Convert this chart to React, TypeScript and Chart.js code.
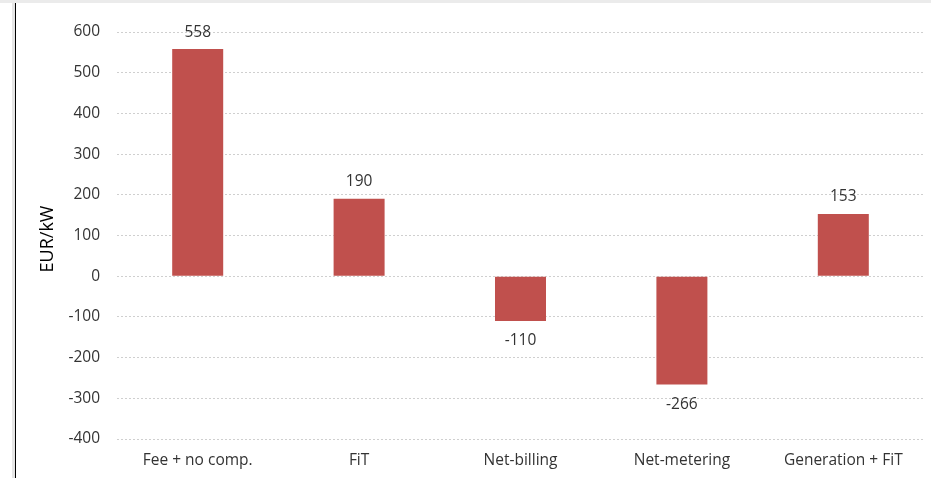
import React, { useEffect, useRef } from "react";
import { Chart, registerables } from "chart.js";

Chart.register(...registerables);

const categories: string[] = ["Fee + no comp.", "FiT", "Net-billing", "Net-metering", "Generation + FiT"];
const values: number[] = [558, 190, -110, -266, 153];
const yTicks: number[] = [-400, -300, -200, -100, 0, 100, 200, 300, 400, 500, 600];
const yTitle = "EUR/kW";

const FONT = "'Open Sans', 'DejaVu Sans', sans-serif";
const TEXT = "#333333";
const BAR = "#C0504D";

const W = 931;
const H = 478;

// Value labels above positive bars and below negative bars
const valueLabels = {
  id: "valueLabels",
  afterDatasetsDraw(chart: any) {
    const { ctx } = chart;
    const meta = chart.getDatasetMeta(0);
    ctx.save();
    ctx.font = `15.5px ${FONT}`;
    ctx.fillStyle = TEXT;
    ctx.textAlign = "center";
    ctx.textBaseline = "middle";
    meta.data.forEach((el: any, i: number) => {
      const v = values[i];
      const y = v >= 0 ? el.y - 17 : el.y + 20;
      ctx.fillText(String(v), el.x, y);
    });
    ctx.restore();
  },
};

// Rotated y-axis title
const axisTitle = {
  id: "axisTitle",
  afterDraw(chart: any) {
    const { ctx } = chart;
    ctx.save();
    ctx.translate(48, 239);
    ctx.rotate(-Math.PI / 2);
    ctx.font = `18px ${FONT}`;
    ctx.fillStyle = "#000000";
    ctx.textAlign = "center";
    ctx.textBaseline = "middle";
    ctx.fillText(yTitle, 0, 0);
    ctx.restore();
  },
};

export default function App() {
  const ref = useRef<HTMLCanvasElement | null>(null);

  useEffect(() => {
    if (!ref.current) return;
    const chart = new Chart(ref.current, {
      type: "bar",
      data: {
        labels: categories,
        datasets: [
          {
            data: values,
            backgroundColor: BAR,
            borderWidth: 0,
            barPercentage: 0.316,
            categoryPercentage: 1,
          },
        ],
      },
      options: {
        animation: false,
        responsive: false,
        devicePixelRatio: 1,
        layout: { padding: { left: 0, right: 7, top: 32, bottom: 0 } },
        plugins: { legend: { display: false }, tooltip: { enabled: false } },
        scales: {
          x: {
            grid: { display: false, drawTicks: false },
            border: { display: false },
            ticks: { color: TEXT, font: { family: FONT, size: 15.5 }, padding: 12, maxRotation: 0 },
            afterFit(s: any) {
              s.height = 39;
            },
          },
          y: {
            min: -400,
            max: 600,
            afterBuildTicks(s: any) {
              s.ticks = yTicks.map((v) => ({ value: v }));
            },
            grid: { color: "#cfcfcf", lineWidth: 1, drawTicks: false },
            border: { display: false, dash: [2, 2] },
            ticks: { color: TEXT, font: { family: FONT, size: 15.5 }, padding: 17 },
            afterFit(s: any) {
              s.width = 117;
            },
          },
        },
      },
      plugins: [valueLabels, axisTitle],
    });
    return () => chart.destroy();
  }, []);

  return (
    <div style={{ position: "absolute", left: 0, top: 0, width: W, height: H, background: "#ffffff", overflow: "hidden" }}>
      <div style={{ position: "absolute", left: 0, top: 0, width: W, height: 3, background: "#ebebeb" }} />
      <div style={{ position: "absolute", left: 12, top: 3, width: 3, height: H - 3, background: "#e6e6e6" }} />
      <div style={{ position: "absolute", left: 15, top: 3, width: 1, height: H - 3, background: "#000000" }} />
      <canvas ref={ref} width={W} height={H} style={{ position: "absolute", left: 0, top: 0, width: W, height: H }} />
    </div>
  );
}
